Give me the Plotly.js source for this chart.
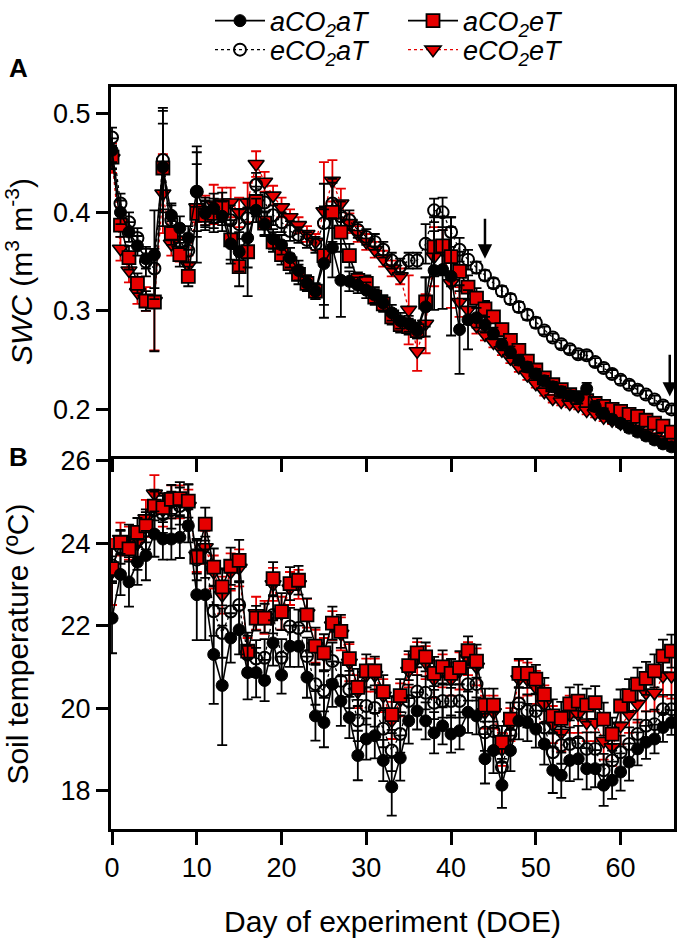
<!DOCTYPE html>
<html>
<head>
<meta charset="utf-8">
<script src="https://cdn.plot.ly/plotly-3.0.1.min.js"></script>
<style>
  html, body { margin: 0; padding: 0; background: #ffffff; }
  #chart { width: 682px; height: 940px; }
</style>
</head>
<body>
<div id="chart"></div>
<script>
// ---------------- DATA ----------------
const days = [0,1,2,3,4,5,6,7,8,9,10,11,12,13,14,15,16,17,18,19,20,21,22,23,24,25,26,27,28,29,30,31,32,33,34,35,36,37,38,39,40,41,42,43,44,45,46,47,48,49,50,51,52,53,54,55,56,57,58,59,60,61,62,63,64,65,66];

const seriesNames = ['<i>aCO<sub>2</sub>aT</i>', '<i>aCO<sub>2</sub>eT</i>', '<i>eCO<sub>2</sub>aT</i>', '<i>eCO<sub>2</sub>eT</i>'];

// Panel A: soil water content (m3 m-3)
const swc_aCO2aT = [0.463,0.400,0.380,0.366,0.353,0.357,0.446,0.397,0.384,0.374,
  0.421,0.399,0.404,0.396,0.368,0.360,0.374,0.402,0.388,0.373,
  0.367,0.354,0.341,0.328,0.320,0.348,0.364,0.331,0.330,0.326,
  0.321,0.316,0.308,0.298,0.290,0.287,0.280,0.304,0.341,0.342,
  0.335,0.281,0.291,0.293,0.286,0.277,0.266,0.258,0.250,0.243,
  0.236,0.229,0.223,0.218,0.214,0.212,0.221,0.203,0.196,0.190,
  0.186,0.181,0.177,0.173,0.169,0.165,0.162];
const swc_aCO2eT = [0.456,0.387,0.354,0.328,0.310,0.309,0.445,0.379,0.357,0.335,
  0.399,0.397,0.399,0.405,0.372,0.345,0.360,0.411,0.389,0.370,
  0.357,0.348,0.337,0.328,0.320,0.356,0.400,0.380,0.356,0.331,
  0.328,0.314,0.307,0.294,0.286,0.284,0.280,0.309,0.365,0.366,
  0.355,0.340,0.324,0.313,0.302,0.294,0.281,0.270,0.260,0.249,
  0.240,0.232,0.225,0.220,0.215,0.212,0.209,0.206,0.203,0.200,
  0.198,0.195,0.193,0.189,0.186,0.183,0.177];
const swc_eCO2aT = [0.476,0.409,0.390,0.374,0.350,0.343,0.453,0.392,0.370,0.361,
  0.421,0.400,0.395,0.399,0.392,0.388,0.394,0.428,0.410,0.397,
  0.390,0.381,0.377,0.372,0.367,0.389,0.409,0.396,0.392,0.382,
  0.375,0.370,0.362,0.351,0.345,0.351,0.351,0.368,0.402,0.400,
  0.380,0.362,0.352,0.344,0.336,0.328,0.320,0.312,0.304,0.296,
  0.288,0.280,0.273,0.266,0.261,0.256,0.255,0.248,0.242,0.236,
  0.230,0.225,0.220,0.215,0.210,0.204,0.200];
const swc_eCO2eT = [0.455,0.363,0.341,0.319,0.312,0.310,0.419,0.368,0.362,0.346,
  0.405,0.402,0.408,0.410,0.410,0.400,0.410,0.449,0.431,0.417,
  0.405,0.395,0.387,0.378,0.370,0.401,0.432,0.409,0.389,0.378,
  0.370,0.362,0.353,0.343,0.335,0.301,0.259,0.287,0.355,0.362,
  0.328,0.309,0.301,0.285,0.276,0.268,0.260,0.252,0.243,0.235,
  0.226,0.218,0.211,0.208,0.206,0.204,0.199,0.196,0.192,0.189,
  0.186,0.183,0.180,0.176,0.172,0.169,0.167];

const swcErr_aCO2aT = [0.012,0.012,0.010,0.010,0.010,0.045,0.060,0.012,0.012,0.012,
  0.046,0.012,0.015,0.015,0.020,0.020,0.030,0.012,0.012,0.010,
  0.010,0.010,0.010,0.008,0.008,0.055,0.030,0.037,0.010,0.008,
  0.008,0.008,0.008,0.008,0.008,0.008,0.008,0.030,0.040,0.040,
  0.060,0.045,0.030,0.010,0.008,0.006,0.006,0.006,0.005,0.005,
  0.005,0.005,0.005,0.005,0.005,0.006,0.006,0.005,0.005,0.004,
  0.004,0.004,0.004,0.004,0.004,0.004,0.004];
const swcErr_aCO2eT = [0.012,0.012,0.012,0.010,0.010,0.050,0.045,0.012,0.012,0.010,
  0.050,0.015,0.015,0.015,0.020,0.020,0.045,0.015,0.012,0.010,
  0.010,0.010,0.010,0.008,0.008,0.050,0.030,0.020,0.012,0.008,
  0.008,0.008,0.008,0.008,0.008,0.008,0.008,0.025,0.030,0.030,
  0.030,0.020,0.012,0.010,0.008,0.006,0.006,0.006,0.005,0.005,
  0.005,0.005,0.005,0.005,0.005,0.005,0.005,0.005,0.005,0.004,
  0.004,0.004,0.004,0.004,0.004,0.004,0.004];
const swcErr_eCO2aT = [0.010,0.010,0.010,0.010,0.015,0.020,0.050,0.015,0.012,0.012,
  0.040,0.015,0.015,0.012,0.015,0.015,0.020,0.012,0.010,0.010,
  0.010,0.010,0.008,0.008,0.008,0.040,0.025,0.015,0.010,0.008,
  0.008,0.008,0.008,0.008,0.008,0.008,0.008,0.020,0.012,0.015,
  0.015,0.012,0.010,0.006,0.005,0.005,0.005,0.005,0.005,0.005,
  0.005,0.004,0.004,0.004,0.004,0.004,0.004,0.004,0.004,0.004,
  0.004,0.004,0.004,0.004,0.004,0.004,0.004];
const swcErr_eCO2eT = [0.015,0.012,0.012,0.012,0.012,0.050,0.040,0.012,0.012,0.010,
  0.015,0.015,0.020,0.015,0.015,0.015,0.020,0.013,0.010,0.010,
  0.010,0.008,0.008,0.008,0.008,0.050,0.021,0.015,0.010,0.008,
  0.008,0.008,0.008,0.008,0.008,0.035,0.020,0.030,0.030,0.020,
  0.025,0.015,0.010,0.008,0.006,0.005,0.005,0.005,0.005,0.005,
  0.004,0.004,0.004,0.004,0.004,0.004,0.004,0.004,0.004,0.004,
  0.004,0.004,0.004,0.004,0.004,0.004,0.004];

// Panel B: soil temperature (ºC)
const temp_aCO2aT = [22.18,23.24,23.06,23.54,23.70,24.22,24.10,24.10,24.14,24.42,
  22.75,22.75,21.30,20.55,21.70,21.90,20.86,20.86,20.67,21.58,
  20.80,21.50,21.50,20.75,19.81,19.65,20.58,20.17,19.77,18.85,
  19.25,19.33,18.73,18.09,18.79,19.69,19.93,19.69,19.40,19.57,
  19.37,19.45,19.90,19.81,18.77,18.97,18.13,18.97,19.69,19.65,
  19.49,19.13,18.49,18.37,18.73,18.77,18.53,18.53,18.13,18.25,
  18.45,18.69,19.01,19.17,19.25,19.53,19.65];
const temp_aCO2eT = [23.38,24.02,23.86,24.26,24.42,24.90,24.86,25.06,25.08,25.02,
  23.66,24.46,23.42,22.94,23.44,23.58,21.38,22.18,22.18,23.14,
  22.34,23.02,23.10,22.26,21.50,21.34,22.06,21.86,21.20,20.50,
  20.90,20.90,20.40,19.84,20.30,21.03,21.34,21.24,20.84,21.00,
  20.84,20.98,21.39,21.14,20.07,20.07,19.17,19.73,20.84,20.84,
  20.70,20.33,19.81,19.75,20.10,20.17,20.07,20.13,19.73,19.37,
  20.05,20.30,20.58,20.72,20.90,21.26,21.38];
const temp_eCO2aT = [23.46,23.90,24.00,23.80,24.30,24.80,24.70,24.80,24.90,24.98,
  23.60,23.66,22.35,21.82,22.34,22.50,21.30,21.20,21.22,22.26,
  21.22,21.98,21.94,21.26,20.58,20.42,21.14,20.66,20.45,19.70,
  20.05,20.00,19.50,18.97,19.37,20.17,20.40,20.37,20.13,20.17,
  20.17,20.17,20.58,20.58,19.41,19.44,18.57,19.37,20.11,19.93,
  19.93,19.53,18.93,19.10,19.13,19.17,19.01,19.01,18.49,18.73,
  18.93,19.13,19.37,19.57,19.61,19.97,19.97];
const temp_eCO2eT = [23.30,24.10,24.00,24.00,24.60,25.20,24.80,25.00,25.00,24.90,
  23.70,23.90,23.30,22.74,23.30,23.40,21.30,22.30,22.20,23.00,
  22.30,22.90,23.00,22.30,21.50,21.30,22.00,21.80,21.10,20.40,
  20.80,20.80,20.30,19.70,20.20,20.90,21.20,21.10,20.70,20.90,
  20.70,20.90,21.20,21.00,19.90,19.90,19.00,19.60,20.70,20.70,
  20.50,20.10,19.60,19.40,19.85,19.85,19.65,19.65,19.20,19.05,
  19.57,19.85,20.10,20.37,20.37,20.78,20.78];

const tempErr_aCO2aT = [0.85,0.50,0.60,0.55,0.60,0.55,0.50,0.50,0.50,0.40,
  1.10,1.10,1.20,1.45,0.60,0.60,0.65,0.60,0.50,0.55,
  0.45,0.50,0.50,0.50,0.60,0.60,0.55,0.60,0.50,0.60,
  0.50,0.55,0.50,0.70,0.55,0.55,0.45,0.45,0.50,0.45,
  0.45,0.45,0.50,0.45,0.60,0.55,0.55,0.50,0.45,0.45,
  0.45,0.50,0.55,0.55,0.50,0.50,0.50,0.45,0.50,0.45,
  0.45,0.45,0.40,0.40,0.35,0.35,0.30];
const tempErr_aCO2eT = [0.30,0.30,0.30,0.35,0.40,0.35,0.35,0.35,0.40,0.40,
  0.40,0.40,0.45,0.45,0.45,0.50,0.45,0.30,0.35,0.40,
  0.45,0.40,0.35,0.40,0.45,0.45,0.40,0.40,0.40,0.45,
  0.40,0.35,0.40,0.45,0.40,0.35,0.35,0.35,0.40,0.40,
  0.35,0.40,0.35,0.40,0.40,0.40,0.40,0.40,0.35,0.35,
  0.35,0.40,0.40,0.40,0.40,0.40,0.40,0.40,0.40,0.40,
  0.40,0.40,0.40,0.40,0.40,0.40,0.40];
const tempErr_eCO2aT = [0.40,0.40,0.45,0.45,0.45,0.50,0.45,0.45,0.45,0.45,
  0.50,0.50,0.60,0.60,0.55,0.55,0.45,0.45,0.45,0.45,
  0.45,0.45,0.45,0.45,0.50,0.50,0.45,0.45,0.45,0.50,
  0.45,0.45,0.45,0.50,0.45,0.40,0.40,0.40,0.40,0.40,
  0.40,0.40,0.40,0.40,0.45,0.45,0.45,0.45,0.40,0.40,
  0.40,0.40,0.45,0.45,0.40,0.40,0.40,0.40,0.40,0.40,
  0.40,0.40,0.35,0.35,0.35,0.35,0.35];
const tempErr_eCO2eT = [0.80,0.40,0.40,0.40,0.45,0.45,0.40,0.40,0.40,0.40,
  0.40,0.40,0.40,0.45,0.45,0.45,0.40,0.40,0.40,0.40,
  0.40,0.40,0.35,0.35,0.40,0.40,0.35,0.40,0.45,0.40,
  0.40,0.40,0.40,0.45,0.40,0.40,0.40,0.40,0.45,0.40,
  0.40,0.45,0.40,0.45,0.40,0.40,0.40,0.40,0.45,0.40,
  0.40,0.45,0.45,0.45,0.45,0.45,0.45,0.45,0.45,0.45,
  0.45,0.45,0.45,0.45,0.45,0.50,0.55];

// arrows in panel A (day, tail value, tip value)
const arrowDays = [44, 65.8];
const arrowTails = [0.395, 0.257];
const arrowTips = [0.353, 0.213];

// ---------------- STYLE ----------------
const FONT = 'Liberation Sans, Arial, Helvetica, sans-serif';
const RED = '#e60000';
const W = 682, H = 940;
const M = {l: 111, r: 8, t: 86.5, b: 110.5};
const plotW = W - M.l - M.r, plotH = H - M.t - M.b;
const yDomA = [(H - M.b - 456.2) / plotH, 1];
const yDomB = [0, (H - M.b - 459.2) / plotH];
const pxToPaperY = py => (H - M.b - py) / plotH;
const pxToPaperX = px => (px - M.l) / plotW;

const styles = [
  { // aCO2aT
    marker: {symbol: 'circle', size: 12, color: '#000000', line: {color: '#000000', width: 1}},
    line: {color: '#000000', width: 1.6, dash: 'solid'},
    errColor: '#000000', legend: 'legend'
  },
  { // aCO2eT
    marker: {symbol: 'square', size: 13, color: RED, line: {color: '#000000', width: 1.8}},
    line: {color: '#000000', width: 1.6, dash: 'solid'},
    errColor: '#000000', legend: 'legend'
  },
  { // eCO2aT
    marker: {symbol: 'circle-open', size: 12, color: '#000000', line: {color: '#000000', width: 2}},
    line: {color: '#000000', width: 1.3, dash: 'dot'},
    errColor: '#000000', legend: 'legend2'
  },
  { // eCO2eT
    marker: {symbol: 'triangle-down', size: 14, color: RED, line: {color: '#000000', width: 1.6}},
    line: {color: RED, width: 1.3, dash: 'dot'},
    errColor: RED, legend: 'legend2'
  }
];

const swcSeries = [swc_aCO2aT, swc_aCO2eT, swc_eCO2aT, swc_eCO2eT];
const swcErrs = [swcErr_aCO2aT, swcErr_aCO2eT, swcErr_eCO2aT, swcErr_eCO2eT];
const tempSeries = [temp_aCO2aT, temp_aCO2eT, temp_eCO2aT, temp_eCO2eT];
const tempErrs = [tempErr_aCO2aT, tempErr_aCO2eT, tempErr_eCO2aT, tempErr_eCO2eT];

// drawing order: eCO2eT, eCO2aT, aCO2eT, aCO2aT (last on top)
const drawOrder = [3, 2, 1, 0];
// legend rank so rows read aCO2aT, aCO2eT / eCO2aT, eCO2eT
const legendRank = [1, 2, 1, 2];

function makeTrace(i, ys, errs, xa, ya, showleg) {
  const s = styles[i];
  return {
    type: 'scatter', mode: 'lines+markers',
    x: days, y: ys,
    xaxis: xa, yaxis: ya,
    name: seriesNames[i],
    legend: s.legend,
    legendrank: legendRank[i],
    showlegend: showleg,
    marker: s.marker,
    line: s.line,
    error_y: {type: 'data', array: errs, visible: true, color: s.errColor, thickness: 1.8, width: 5},
    hoverinfo: 'skip'
  };
}

const traces = [];
drawOrder.forEach(i => traces.push(makeTrace(i, swcSeries[i], swcErrs[i], 'x', 'y', true)));
drawOrder.forEach(i => traces.push(makeTrace(i, tempSeries[i], tempErrs[i], 'x2', 'y2', false)));

const axisCommon = {
  showgrid: false, zeroline: false, showline: true, linecolor: '#000000', linewidth: 3,
  ticks: 'outside', tickcolor: '#000000', tickwidth: 3,
  tickfont: {family: FONT, size: 27, color: '#000000'}
};

const xRange = [-0.12, 66.3];

const annotations = [
  {text: '<b>A</b>', xref: 'paper', yref: 'paper', x: pxToPaperX(18), y: pxToPaperY(67),
   showarrow: false, font: {family: FONT, size: 26, color: '#000000'}, xanchor: 'center', yanchor: 'middle'},
  {text: '<b>B</b>', xref: 'paper', yref: 'paper', x: pxToPaperX(18), y: pxToPaperY(457),
   showarrow: false, font: {family: FONT, size: 26, color: '#000000'}, xanchor: 'center', yanchor: 'middle'}
];
arrowDays.forEach((d, k) => {
  annotations.push({
    xref: 'x', yref: 'y', axref: 'x', ayref: 'y',
    x: d, y: arrowTips[k], ax: d, ay: arrowTails[k],
    text: '', showarrow: true, arrowhead: 2, arrowsize: 1.15, arrowwidth: 2.5, arrowcolor: '#000000', standoff: 0
  });
});

const legendCommon = {
  orientation: 'h', xref: 'paper', yref: 'paper', xanchor: 'left', yanchor: 'top',
  font: {family: FONT, size: 27, color: '#000000'}, bgcolor: 'rgba(0,0,0,0)', borderwidth: 0,
  itemwidth: 50, entrywidth: 128, entrywidthmode: 'pixels', traceorder: 'normal',
  itemclick: false, itemdoubleclick: false
};

const layout = {
  width: W, height: H,
  margin: {l: M.l, r: M.r, t: M.t, b: M.b, pad: 0, autoexpand: false},
  paper_bgcolor: '#ffffff', plot_bgcolor: 'rgba(0,0,0,0)',
  font: {family: FONT, size: 27, color: '#000000'},
  showlegend: true,
  legend: Object.assign({}, legendCommon, {x: pxToPaperX(210), y: pxToPaperY(-4)}),
  legend2: Object.assign({}, legendCommon, {x: pxToPaperX(210), y: pxToPaperY(25)}),
  xaxis: Object.assign({}, axisCommon, {
    anchor: 'y', range: xRange, tick0: 0, dtick: 10, ticklen: 13, mirror: true,
    showticklabels: false
  }),
  yaxis: Object.assign({}, axisCommon, {
    anchor: 'x', domain: yDomA, range: [0.1525, 0.5272], tick0: 0, dtick: 0.1, ticklen: 12, mirror: true,
    tickformat: '.1f', automargin: false,
    title: {text: '<i>SWC</i> (m<sup>3</sup> m<sup>-3</sup>)', font: {family: FONT, size: 30, color: '#000000'}, standoff: 14}
  }),
  xaxis2: Object.assign({}, axisCommon, {
    anchor: 'y2', range: xRange, tick0: 0, dtick: 10, ticklen: 13, mirror: false, automargin: false,
    title: {text: 'Day of experiment (DOE)', font: {family: FONT, size: 30, color: '#000000'}, standoff: 29}
  }),
  yaxis2: Object.assign({}, axisCommon, {
    anchor: 'x2', domain: yDomB, range: [17.067, 26.036], tick0: 18, dtick: 2, ticklen: 12, mirror: true,
    automargin: false,
    title: {text: 'Soil temperature (ºC)', font: {family: FONT, size: 30, color: '#000000'}, standoff: 24}
  }),
  annotations: annotations
};

Plotly.newPlot('chart', traces, layout, {displayModeBar: false, staticPlot: true});
</script>
</body>
</html>
